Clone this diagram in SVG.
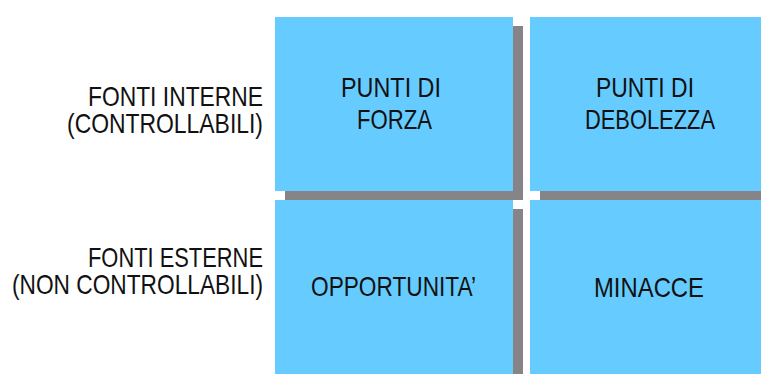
<svg xmlns="http://www.w3.org/2000/svg" width="761" height="374" viewBox="0 0 761 374">
<style>
.box{fill:#66ccff}
.sh{fill:#868486}
.t{font-family:"Liberation Sans",Arial,sans-serif;font-size:27.5px;fill:#111}
</style>
<rect width="761" height="374" fill="#ffffff"/>
<g id="labels">
<text class="t" x="88" y="106" textLength="175" lengthAdjust="spacingAndGlyphs">FONTI INTERNE</text>
<text class="t" x="67" y="133" textLength="196" lengthAdjust="spacingAndGlyphs">(CONTROLLABILI)</text>
<text class="t" x="88" y="267" textLength="175" lengthAdjust="spacingAndGlyphs">FONTI ESTERNE</text>
<text class="t" x="12" y="294" textLength="251" lengthAdjust="spacingAndGlyphs">(NON CONTROLLABILI)</text>
</g>
<g id="connectors"></g>
<g id="forza">
<rect class="sh" x="285" y="26" width="238" height="174"/>
<rect class="box" x="275" y="17" width="238" height="174"/>
<text class="t" x="341" y="97" textLength="100" lengthAdjust="spacingAndGlyphs">PUNTI DI</text>
<text class="t" x="357" y="129" textLength="75" lengthAdjust="spacingAndGlyphs">FORZA</text>
</g>
<g id="debolezza">
<rect class="sh" x="540" y="26" width="240" height="174"/>
<rect class="box" x="530" y="17" width="240" height="174"/>
<text class="t" x="596" y="97" textLength="98" lengthAdjust="spacingAndGlyphs">PUNTI DI</text>
<text class="t" x="585" y="129" textLength="130" lengthAdjust="spacingAndGlyphs">DEBOLEZZA</text>
</g>
<g id="opportunita">
<rect class="sh" x="285" y="209" width="238" height="180"/>
<rect class="box" x="275" y="200" width="238" height="180"/>
<text class="t" x="311" y="296" textLength="165" lengthAdjust="spacingAndGlyphs">OPPORTUNITA’</text>
</g>
<g id="minacce">
<rect class="sh" x="540" y="209" width="240" height="180"/>
<rect class="box" x="530" y="200" width="240" height="180"/>
<text class="t" x="594" y="297" textLength="110" lengthAdjust="spacingAndGlyphs">MINACCE</text>
</g>
</svg>
